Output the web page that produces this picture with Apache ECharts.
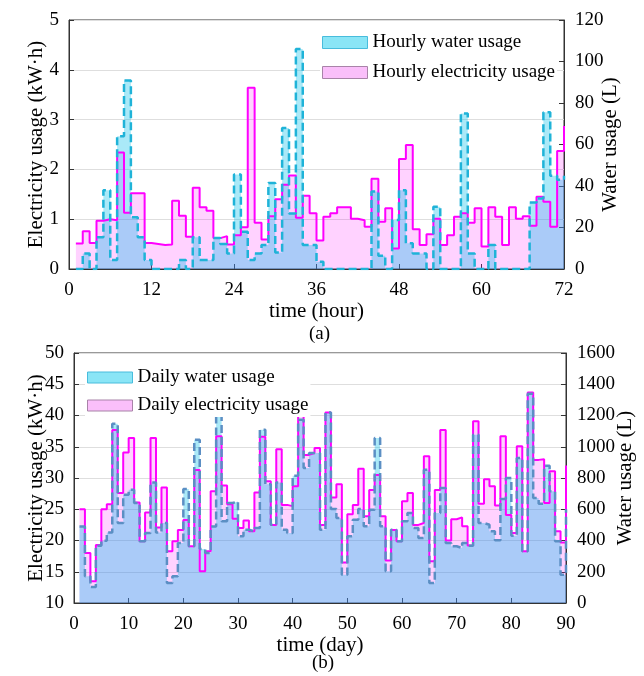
<!DOCTYPE html>
<html>
<head>
<meta charset="utf-8">
<script src="https://cdn.jsdelivr.net/npm/echarts@6/dist/echarts.min.js"></script>
<style>
  html, body { margin: 0; padding: 0; background: #fff; }
  #main { width: 644px; height: 676px; }
</style>
</head>
<body>
<div id="main"></div>
<script>
// (a) hourly values, hours 1..72
const hourlyElec = [
  0.51, 0.76, 0.52, 0.97, 1.00, 0.98, 2.34, 1.13, 1.52, 1.52, 0.52, 0.50,
  0.48, 0.49, 1.37, 1.07, 0.65, 1.63, 1.24, 1.17, 0.62, 0.66, 0.49, 0.68,
  0.84, 3.64, 0.93, 0.59, 1.06, 1.40, 1.69, 1.88, 1.03, 1.47, 1.12, 0.57,
  1.05, 1.12, 1.24, 1.24, 1.01, 0.98, 0.85, 1.81, 0.95, 1.22, 0.41, 2.21,
  2.49, 0.80, 0.48, 0.70, 1.01, 0.48, 0.68, 1.05, 1.12, 0.93, 1.22, 0.45,
  1.24, 1.05, 0.48, 1.24, 1.01, 1.06, 0.87, 1.45, 1.35, 0.85, 2.37, 2.87
];
const hourlyWater = [
  0, 7.5, 0, 15.3, 38, 4.3, 64, 90.8, 25, 15.3, 4.3, 0,
  0, 0, 0, 4.3, 0, 15.3, 4.3, 4.3, 15, 12, 7.5, 45.5,
  18, 4.3, 7.5, 11.6, 41.5, 8, 68, 26.8, 106, 11.6, 11.6, 3.5,
  0, 0, 0, 0, 0, 0, 0, 37.3, 6.4, 0, 23.6, 38,
  12.4, 7.5, 7.5, 0, 30, 0, 0, 0, 75, 7.5, 0, 0,
  11.6, 0, 0, 0, 0, 0, 32, 34, 75.5, 45, 43, 45
];

// (b) daily values, days 1..90
const dailyElec = [
  25, 18, 13.5, 19.3, 25, 25.8, 37.7, 27.6, 34.1, 36.4,
  26.1, 19.9, 24.5, 36.4, 22.1, 28.5, 18.3, 19.9, 21.7, 23.3,
  19.1, 31.3, 15.1, 18.3, 27.9, 36.7, 28.8, 25.8, 23.5, 22,
  23.2, 21.5, 27.7, 36.6, 29.5, 22.5, 34.6, 25.7, 25.5, 28.7,
  40.9, 33.7, 34, 34.8, 22.5, 40.5, 26.9, 29, 16.5, 24.2,
  25.7, 31.5, 23.9, 28.1, 30.5, 23.9, 16.8, 21.7, 19.9, 26.3,
  27.6, 22.5, 22.8, 33.5, 16.7, 28.1, 37.7, 20, 23.4, 23.7,
  22.3, 19.2, 39.1, 25.9, 29.8, 28.7, 25.6, 36.7, 24.1, 21.2,
  35.1, 18.3, 43.7, 32.9, 33, 26, 31.1, 21.5, 19.7, 32
];
const dailyWater = [
  490, 171, 102, 367, 399, 452, 1148, 512, 693, 725,
  640, 395, 448, 772, 452, 512, 128, 171, 384, 730,
  363, 1045, 345, 320, 490, 1242, 523, 640, 650, 427,
  469, 459, 480, 1109, 760, 501, 772, 469, 448, 815,
  1173, 864, 960, 960, 469, 1220, 602, 544, 181, 427,
  533, 602, 491, 597, 1056, 491, 203, 469, 395, 523,
  576, 480, 416, 853, 128, 576, 736, 384, 363, 352,
  384, 367, 1077, 512, 501, 459, 401, 666, 800, 431,
  928, 331, 1340, 672, 636, 879, 715, 395, 181, 600
];

const serif = "'Liberation Serif', 'Times New Roman', serif";

function pairs(vals) {
  return vals.map(function (v, i) { return [i + 1, v]; });
}

const chart = echarts.init(document.getElementById('main'));

function xAx(grid, max, name, gap) {
  return {
    type: 'value', gridIndex: grid, min: 0, max: max, interval: max === 72 ? 12 : 10,
    name: name, nameLocation: 'middle', nameGap: gap,
    nameTextStyle: { fontFamily: serif, fontSize: 21, color: '#000' },
    axisLine: { onZero: false, lineStyle: { color: '#333', width: 1 } },
    axisTick: { inside: true, length: 5, lineStyle: { color: '#333' } },
    axisLabel: { fontFamily: serif, fontSize: 19, color: '#000', margin: 12 },
    splitLine: { show: false }
  };
}
function yAx(grid, min, max, step, pos, name, gap, grid_lines) {
  return {
    type: 'value', gridIndex: grid, position: pos, min: min, max: max, interval: step,
    name: name, nameLocation: 'middle', nameGap: gap, nameRotate: 90,
    nameMoveOverlap: false,
    nameTextStyle: { fontFamily: serif, fontSize: 21, color: '#000' },
    axisLine: { show: true, lineStyle: { color: '#333', width: 1 } },
    axisTick: { show: true, inside: true, length: 5, lineStyle: { color: '#333' } },
    axisLabel: {
      fontFamily: serif, fontSize: 19, color: '#000', margin: pos === 'left' ? 10 : 11,
      formatter: function (v) { return String(v); }
    },
    splitLine: { show: grid_lines, lineStyle: { color: '#dedede', width: 1 } }
  };
}

const elecLine = { color: '#ff00ff', width: 2 };
const elecArea = { color: 'rgba(255,0,255,0.25)', origin: 'start' };
const waterArea = { color: 'rgba(0,190,235,0.48)', origin: 'start' };

chart.setOption({
  animation: false,
  backgroundColor: '#fff',
  grid: [
    { left: 69, right: 80, top: 20, height: 249, show: true, borderColor: '#333', borderWidth: 1, backgroundColor: 'transparent' },
    { left: 74, right: 75, top: 353, height: 250, show: true, borderColor: '#333', borderWidth: 1, backgroundColor: 'transparent' }
  ],
  xAxis: [
    xAx(0, 72, 'time (hour)', 31),
    xAx(1, 90, 'time (day)', 30)
  ],
  yAxis: [
    yAx(0, 0, 5, 1, 'left', 'Electricity usage (kW·h)', 22, true),
    yAx(0, 0, 120, 20, 'right', 'Water usage (L)', 36, false),
    yAx(1, 10, 50, 5, 'left', 'Electricity usage (kW·h)', 27, true),
    yAx(1, 0, 1600, 200, 'right', 'Water usage (L)', 49, false)
  ],
  legend: [
    {
      orient: 'vertical', left: 320, top: 30, itemWidth: 45, itemHeight: 12, itemGap: 11,
      padding: [3, 2, 3, 2], backgroundColor: '#fff', icon: 'rect',
      textStyle: { fontFamily: serif, fontSize: 19, color: '#000' },
      data: [
        { name: 'Hourly water usage', itemStyle: { color: '#8ae5f6', borderColor: '#48bcdc', borderWidth: 1 } },
        { name: 'Hourly electricity usage', itemStyle: { color: '#fabffa', borderColor: '#a883a8', borderWidth: 1 } }
      ]
    },
    {
      orient: 'vertical', left: 85, top: 366, itemWidth: 45, itemHeight: 11, itemGap: 9,
      padding: [2, 2, 2, 2], backgroundColor: '#fff', icon: 'rect',
      textStyle: { fontFamily: serif, fontSize: 19, color: '#000' },
      data: [
        { name: 'Daily water usage', itemStyle: { color: '#8ae5f6', borderColor: '#48bcdc', borderWidth: 1 } },
        { name: 'Daily electricity usage', itemStyle: { color: '#fabffa', borderColor: '#a883a8', borderWidth: 1 } }
      ]
    }
  ],
  graphic: [
    { type: 'text', left: 309, top: 325, style: { text: '(a)', font: '19px ' + serif, fill: '#000' } },
    { type: 'text', left: 312, top: 654, style: { text: '(b)', font: '19px ' + serif, fill: '#000' } }
  ],
  series: [
    {
      name: 'Hourly electricity usage', type: 'line', xAxisIndex: 0, yAxisIndex: 0,
      step: 'end', symbol: 'none', lineStyle: elecLine, areaStyle: elecArea,
      itemStyle: { color: '#fabffa' }, data: pairs(hourlyElec)
    },
    {
      name: 'Hourly water usage', type: 'line', xAxisIndex: 0, yAxisIndex: 1,
      step: 'end', symbol: 'none',
      lineStyle: { color: '#1fb3d8', width: 2.5, type: [8, 4] },
      areaStyle: waterArea, itemStyle: { color: '#8ae5f6' }, data: pairs(hourlyWater)
    },
    {
      name: 'Daily electricity usage', type: 'line', xAxisIndex: 1, yAxisIndex: 2,
      step: 'end', symbol: 'none', lineStyle: elecLine, areaStyle: elecArea,
      itemStyle: { color: '#fabffa' }, data: pairs(dailyElec)
    },
    {
      name: 'Daily water usage', type: 'line', xAxisIndex: 1, yAxisIndex: 3,
      step: 'end', symbol: 'none',
      lineStyle: { color: '#5b8fc4', width: 2.5, type: [8, 4] },
      areaStyle: waterArea, itemStyle: { color: '#8ae5f6' }, data: pairs(dailyWater)
    }
  ]
});
</script>
</body>
</html>
